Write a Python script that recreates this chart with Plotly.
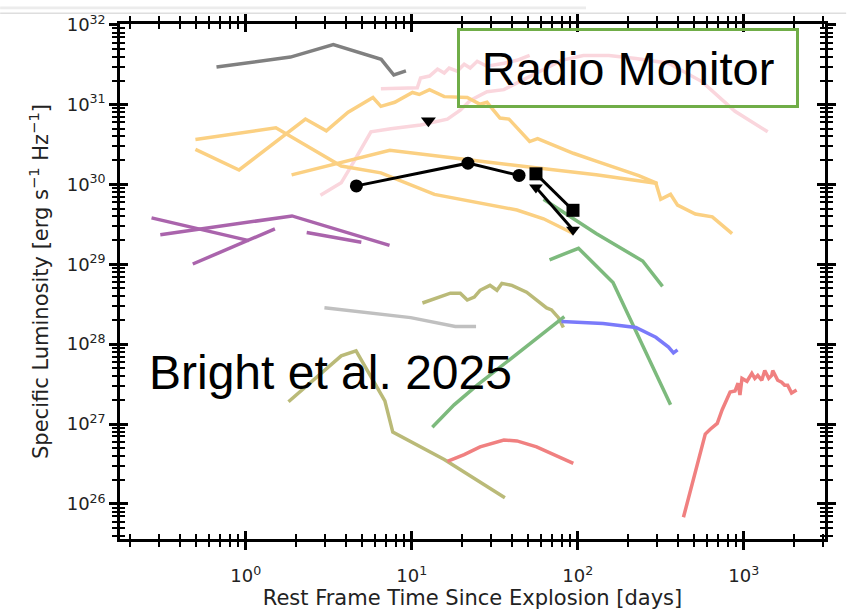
import plotly.graph_objects as go

# ---------------- data (time [days], specific luminosity [erg/s/Hz]) ----------------
t_gray = [0.667, 1.86, 3.37, 6.55, 7.8, 9.23]
L_gray = [2.97e31, 3.94e31, 5.64e31, 3.69e31, 2.35e31, 2.65e31]

t_pink1 = [2.82, 3.76, 4.32, 5.68, 7.48, 11.3, 16.4, 19.6, 22.5, 28.4, 35.9, 56.5, 79.7, 108, 154, 224, 352, 562, 885, 1393]
L_pink1 = [7.31e29, 1.05e30, 1.70e30, 4.57e30, 4.98e30, 5.57e30, 6.59e30, 8.51e30, 1.13e31, 1.45e31, 1.54e31, 2.49e31,
           3.59e31, 4.13e31, 4.13e31, 3.79e31, 3.30e31, 1.93e31, 8.27e30, 4.57e30]

t_pink2 = [6.52, 9.46, 10.8, 11.3, 12.8, 14.3, 15.7, 16.8, 18.8, 20.7, 22.5, 24.8, 28.4, 35.9, 43.0, 51.3]
L_pink2 = [1.58e31, 1.63e31, 1.63e31, 2.16e31, 2.28e31, 2.79e31, 2.49e31, 2.87e31, 2.63e31, 3.21e31, 2.87e31, 3.49e31,
           3.03e31, 3.30e31, 3.59e31, 4.13e31]

t_orange_a = [0.498, 0.912, 2.29, 3.06, 4.14, 5.84, 6.52, 7.90, 10.1, 11.1, 12.8, 15.7, 21.6, 25.8, 28.4, 34.0, 38.5,
              51.3, 57.3, 94.0, 129, 233, 295, 303, 316, 362, 399, 511, 646, 850]
L_orange_a = [2.75e30, 1.52e30, 6.6e30, 4.70e30, 8.04e30, 1.23e31, 9.53e30, 1.07e31, 1.42e31, 1.34e31, 1.54e31, 1.26e31,
              1.23e31, 1.01e31, 1.07e31, 6.79e30, 6.6e30, 3.45e30, 3.76e30, 2.46e30, 1.96e30, 1.29e30, 1.05e30, 8.66e29,
              6.53e29, 7.52e29, 5.51e29, 4.27e29, 3.93e29, 2.43e29]

t_orange_b = [0.498, 1.52, 3.76, 6.52, 13.7, 43.0, 62.2, 94.0]
L_orange_b = [3.65e30, 5.12e30, 1.70e30, 1.40e30, 7.52e29, 4.79e29, 3.72e29, 2.43e29]

t_orange_c = [1.89, 7.38, 28.4, 129, 303]
L_orange_c = [1.32e30, 2.68e30, 1.91e30, 1.32e30, 1.03e30]

t_purple_a1 = [0.271, 1.046]
L_purple_a1 = [3.82e29, 1.98e29]
t_purple_a2 = [0.480, 1.50]
L_purple_a2 = [1.01e29, 2.78e29]
t_purple_b = [0.306, 1.90, 7.35]
L_purple_b = [2.34e29, 4.04e29, 1.73e29]
t_purple_c = [2.33, 4.97]
L_purple_c = [2.50e29, 1.89e29]

t_olive_up = [11.6, 14.3, 17.1, 19.6, 21.6, 23.8, 25.8, 29.6, 32.6, 34.9, 40.1, 49.2, 56.5, 64.9, 69.5, 76.5, 81.9]
L_olive_up = [3.28e28, 3.78e28, 4.35e28, 4.35e28, 3.57e28, 3.89e28, 4.73e28, 5.45e28, 4.73e28, 5.77e28, 5.45e28,
              4.48e28, 3.57e28, 2.85e28, 2.69e28, 2.15e28, 1.62e28]
t_olive_lo = [1.81, 3.76, 4.62, 5.84, 6.89, 7.69, 15.7, 36.4]
L_olive_lo = [1.90e27, 7.14e27, 8.23e27, 3.44e27, 1.95e27, 7.91e26, 3.59e26, 1.19e26]

t_lgray = [2.98, 9.85, 18.3, 24.4]
L_lgray = [2.85e28, 2.15e28, 1.67e28, 1.67e28]

t_green1 = [62.2, 129, 246, 324]
L_green1 = [6.53e29, 2.43e29, 1.10e29, 5.30e28]
t_green2 = [67.6, 101, 163, 362]
L_green2 = [1.14e29, 1.59e29, 5.93e28, 1.74e27]
t_green3 = [13.3, 18.0, 24.8, 83.0]
L_green3 = [9.12e26, 1.74e27, 3.07e27, 2.21e28]

t_blue = [79.7, 142, 224, 295, 352, 377, 399]
L_blue = [1.92e28, 1.81e28, 1.62e28, 1.22e28, 9.2e27, 7.78e27, 8.47e27]

t_red1 = [16.4, 20.7, 25.8, 35.9, 43.0, 56.5, 94.0]
L_red1 = [3.40e26, 4.13e26, 5.18e26, 6.31e26, 6.14e26, 5.18e26, 3.21e26]
t_red2 = [433, 586, 628, 692, 741, 827, 885, 923, 948, 975, 1045, 1118, 1165, 1214, 1283, 1337, 1413, 1473, 1494,
          1557, 1600, 1690, 1762, 1837, 1940, 2080]
L_red2 = [6.79e25, 7.48e26, 8.61e26, 1.02e27, 1.51e27, 2.52e27, 2.59e27, 3.24e27, 2.31e27, 3.73e27, 3.43e27, 4.30e27,
          3.73e27, 4.06e27, 3.53e27, 4.68e27, 3.73e27, 4.06e27, 4.68e27, 3.95e27, 3.53e27, 3.34e27, 3.07e27, 3.07e27,
          2.45e27, 2.66e27]

t_circ = [4.64, 21.8, 44.3]
L_circ = [9.6e29, 1.85e30, 1.30e30]
t_sq = [56.0, 93.6]
L_sq = [1.36e30, 4.75e29]
t_tri = [56.0, 93.6]
L_tri = [9.2e29, 2.72e29]
t_lim = [12.6]
L_lim = [6.3e30]

x_major = [1, 10, 100, 1000]
x_major_text = ["10<sup>0</sup>", "10<sup>1</sup>", "10<sup>2</sup>", "10<sup>3</sup>"]
y_major = [1e26, 1e27, 1e28, 1e29, 1e30, 1e31, 1e32]
y_major_text = ["10<sup>%d</sup>" % e for e in range(26, 33)]
x_minor = [m * 10.0 ** k for k in range(-1, 4) for m in range(2, 10)]
y_minor = [m * 10.0 ** k for k in range(25, 32) for m in range(2, 10)]

X_RANGE = [-0.757, 3.489]
Y_RANGE = [25.56, 32.01]

# ---------------- figure ----------------
fig = go.Figure()

def line(t, L, color, width=3.5):
    fig.add_trace(go.Scatter(x=t, y=L, mode="lines", line=dict(color=color, width=width),
                             showlegend=False, hoverinfo="skip"))

PINK = "rgb(250,214,221)"
ORANGE = "rgb(251,208,130)"
PURPLE = "rgb(170,100,172)"
OLIVE = "rgb(186,186,120)"
GREEN = "rgb(125,186,125)"
BLUE = "rgb(122,122,250)"
RED = "rgb(240,128,128)"

line(t_pink1, L_pink1, PINK)
line(t_pink2, L_pink2, PINK)
line(t_gray, L_gray, "rgb(128,128,128)")
line(t_orange_a, L_orange_a, ORANGE)
line(t_orange_b, L_orange_b, ORANGE)
line(t_orange_c, L_orange_c, ORANGE)
for t, L in [(t_purple_a1, L_purple_a1), (t_purple_a2, L_purple_a2), (t_purple_b, L_purple_b), (t_purple_c, L_purple_c)]:
    line(t, L, PURPLE)
line(t_olive_up, L_olive_up, OLIVE)
line(t_olive_lo, L_olive_lo, OLIVE)
line(t_lgray, L_lgray, "rgb(192,192,192)")
line(t_green1, L_green1, GREEN)
line(t_green2, L_green2, GREEN)
line(t_green3, L_green3, GREEN)
line(t_blue, L_blue, BLUE)
line(t_red1, L_red1, RED)
line(t_red2, L_red2, RED)

fig.add_trace(go.Scatter(x=t_circ, y=L_circ, mode="lines+markers", line=dict(color="black", width=3),
                         marker=dict(symbol="circle", size=13, color="black"), showlegend=False))
fig.add_trace(go.Scatter(x=t_sq, y=L_sq, mode="lines+markers", line=dict(color="black", width=3),
                         marker=dict(symbol="square", size=13, color="black"), showlegend=False))
fig.add_trace(go.Scatter(x=t_tri, y=L_tri, mode="lines+markers", line=dict(color="black", width=3),
                         marker=dict(symbol="triangle-down", size=12, color="black"), showlegend=False))
fig.add_trace(go.Scatter(x=t_lim, y=L_lim, mode="markers",
                         marker=dict(symbol="triangle-down", size=13, color="black"), showlegend=False))
# dummy trace so the inward-tick overlay axes are drawn
fig.add_trace(go.Scatter(x=[], y=[], xaxis="x2", yaxis="y2", showlegend=False))

TICKFONT = dict(family="DejaVu Sans", size=18, color="#222")

def axis(major, major_text, minor_vals, rng, ticks, labels):
    return dict(
        type="log", range=rng, showgrid=False, zeroline=False,
        showline=labels, linecolor="black", linewidth=2.5, mirror="ticks",
        tickmode="array", tickvals=major, ticktext=major_text, showticklabels=labels,
        ticks=ticks, ticklen=8, tickwidth=2.5, tickcolor="black",
        tickfont=TICKFONT,
        minor=dict(tickmode="array", tickvals=minor_vals, ticks=ticks, ticklen=5, tickwidth=1.6,
                   tickcolor="black", showgrid=False),
    )

xa = axis(x_major, x_major_text, x_minor, X_RANGE, "outside", True)
xa.update(ticklabelstandoff=11,
          title=dict(text="Rest Frame Time Since Explosion [days]",
                     font=dict(family="DejaVu Sans", size=21, color="#222"), standoff=1))
ya = axis(y_major, y_major_text, y_minor, Y_RANGE, "outside", True)
ya.update(title=dict(text="Specific Luminosity [erg s<sup>\u22121</sup> Hz<sup>\u22121</sup>]",
                     font=dict(family="DejaVu Sans", size=21, color="#222"), standoff=13))
xa2 = axis(x_major, x_major_text, x_minor, X_RANGE, "inside", False)
xa2.update(overlaying="x", anchor="y", side="bottom")
ya2 = axis(y_major, y_major_text, y_minor, Y_RANGE, "inside", False)
ya2.update(overlaying="y", anchor="x", side="left")

fig.update_layout(
    width=848, height=614,
    margin=dict(l=120, r=17, t=18, b=70),
    paper_bgcolor="white", plot_bgcolor="white",
    xaxis=xa, yaxis=ya, xaxis2=xa2, yaxis2=ya2,
    showlegend=False,
    annotations=[
        dict(text="Radio Monitor", xref="paper", yref="paper", x=0.7208, y=0.9155,
             xanchor="center", yanchor="middle", showarrow=False,
             font=dict(family="Liberation Sans", size=47, color="black"),
             bordercolor="rgb(112,173,71)", borderwidth=3, borderpad=0, width=336, height=74),
        dict(text="Bright et al. 2025", xref="paper", yref="paper", x=0.298, y=0.323,
             xanchor="center", yanchor="middle", showarrow=False,
             font=dict(family="Liberation Sans", size=48, color="black")),
    ],
    shapes=[
        dict(type="rect", xref="paper", yref="paper", x0=-0.17, x1=0.661, y0=1.0285, y1=1.0342,
             fillcolor="rgb(236,236,236)", line=dict(width=0), layer="below"),
        dict(type="line", xref="paper", yref="paper", x0=-0.17, x1=1.03, y0=1.0209, y1=1.0209,
             line=dict(color="rgb(222,222,222)", width=1.5)),
    ],
)

fig.write_html("out.html")
